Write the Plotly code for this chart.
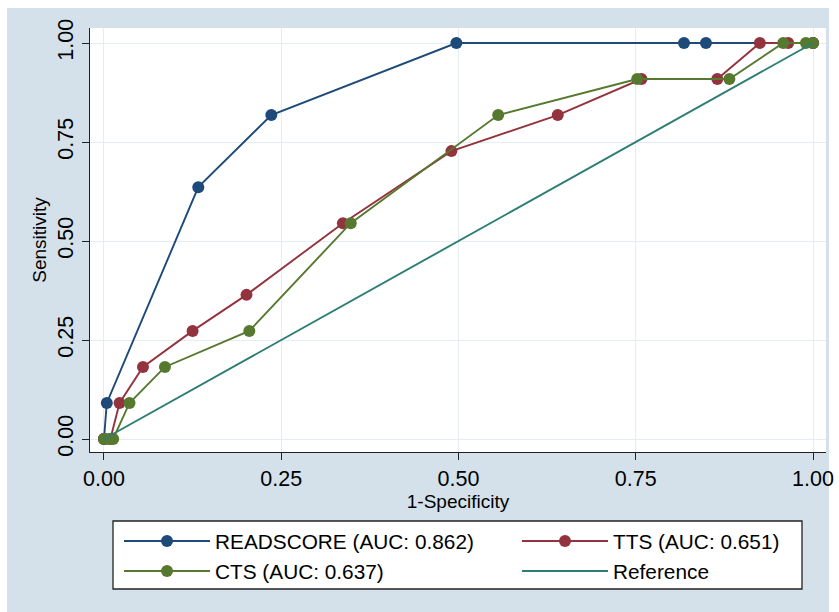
import plotly.graph_objects as go

# ---- data ----
readscore_x = [0, 0.004, 0.133, 0.236, 0.497, 0.818, 0.849, 1.0]
readscore_y = [0, 0.091, 0.636, 0.818, 1.0, 1.0, 1.0, 1.0]

tts_x = [0, 0.009, 0.022, 0.055, 0.125, 0.201, 0.337, 0.490, 0.640, 0.758, 0.865, 0.925, 0.965, 1.0]
tts_y = [0, 0, 0.091, 0.182, 0.273, 0.364, 0.545, 0.727, 0.818, 0.909, 0.909, 1.0, 1.0, 1.0]

cts_x = [0, 0.007, 0.013, 0.036, 0.086, 0.205, 0.348, 0.556, 0.752, 0.882, 0.958, 0.990, 1.0]
cts_y = [0, 0, 0, 0.091, 0.182, 0.273, 0.545, 0.818, 0.909, 0.909, 1.0, 1.0, 1.0]

ref_x = [0, 1]
ref_y = [0, 1]

names = ["READSCORE (AUC: 0.862)", "TTS (AUC: 0.651)", "CTS (AUC: 0.637)", "Reference"]
ticks = [0, 0.25, 0.5, 0.75, 1.0]
tick_text = ["0.00", "0.25", "0.50", "0.75", "1.00"]

# ---- styles ----
C_BLUE = "#1d4a78"
C_RED = "#93333d"
C_GREEN = "#56792f"
C_TEAL = "#2c7d74"
BG = "#d4e1ea"
FONT = "Liberation Sans, Arial, Helvetica, sans-serif"

# plot-area geometry in pixels (for paper-coordinate decorations)
W, H = 839, 612
ML, MR, MT, MB = 90, 13, 28, 160
PW, PH = W - ML - MR, H - MT - MB


def px_x(px):
    return (px - ML) / PW


def px_y(py):
    return (H - MB - py) / PH


fig = go.Figure()
fig.add_trace(go.Scatter(x=readscore_x, y=readscore_y, mode="lines+markers", name=names[0],
                         line=dict(color=C_BLUE, width=1.9), marker=dict(color=C_BLUE, size=12),
                         legend="legend"))
fig.add_trace(go.Scatter(x=tts_x, y=tts_y, mode="lines+markers", name=names[1],
                         line=dict(color=C_RED, width=1.9), marker=dict(color=C_RED, size=12),
                         legend="legend2"))
fig.add_trace(go.Scatter(x=cts_x, y=cts_y, mode="lines+markers", name=names[2],
                         line=dict(color=C_GREEN, width=1.9), marker=dict(color=C_GREEN, size=12),
                         legend="legend"))
fig.add_trace(go.Scatter(x=ref_x, y=ref_y, mode="lines", name=names[3],
                         line=dict(color=C_TEAL, width=1.9),
                         legend="legend2"))

legend_common = dict(
    orientation="v",
    xanchor="left", yanchor="top",
    bgcolor="rgba(0,0,0,0)", borderwidth=0,
    font=dict(family=FONT, size=20.8, color="black"),
    itemwidth=86,
    traceorder="normal",
    tracegroupgap=0,
)

fig.update_layout(
    width=W, height=H,
    margin=dict(l=ML, r=MR, t=MT, b=MB, autoexpand=False),
    paper_bgcolor=BG,
    plot_bgcolor="white",
    font=dict(family=FONT, size=19, color="black"),
    showlegend=True,
    legend=dict(x=px_x(119), y=px_y(521), **legend_common),
    legend2=dict(x=px_x(517), y=px_y(521), **legend_common),
    shapes=[
        # white page strips around the tinted graph region
        dict(type="rect", xref="paper", yref="paper", x0=-0.5, x1=1.5, y0=px_y(8), y1=px_y(-20),
             fillcolor="white", line=dict(width=0), layer="below"),
        dict(type="rect", xref="paper", yref="paper", x0=px_x(829), x1=px_x(860), y0=px_y(640), y1=px_y(-20),
             fillcolor="white", line=dict(width=0), layer="below"),
        dict(type="rect", xref="paper", yref="paper", x0=px_x(-20), x1=px_x(7), y0=px_y(640), y1=px_y(-20),
             fillcolor="white", line=dict(width=0), layer="below"),
        # legend frame
        dict(type="rect", xref="paper", yref="paper", x0=px_x(113), x1=px_x(802), y0=px_y(589), y1=px_y(521),
             fillcolor="white", line=dict(color="#222222", width=1.3), layer="below"),
    ],
)

axis_common = dict(
    tickvals=ticks, ticktext=tick_text,
    showgrid=True, gridcolor="#e6edf2", gridwidth=1.2,
    zeroline=False,
    showline=True, linecolor="#222222", linewidth=1.3,
    ticks="outside", ticklen=7, tickcolor="#222222", tickwidth=1.3,
    tickfont=dict(size=21.5),
    automargin=False,
)

fig.update_xaxes(
    range=[-0.0197, 1.0183],
    title=dict(text="1-Specificity", font=dict(size=19), standoff=0),
    **axis_common,
)
fig.update_yaxes(
    range=[-0.0328, 1.0379],
    tickangle=-90,
    title=dict(text="Sensitivity", font=dict(size=19), standoff=2),
    **axis_common,
)

fig.write_html(
    "out.html",
    config={"displayModeBar": False},
    post_script="document.body.style.margin='0';document.body.style.padding='0';",
)
